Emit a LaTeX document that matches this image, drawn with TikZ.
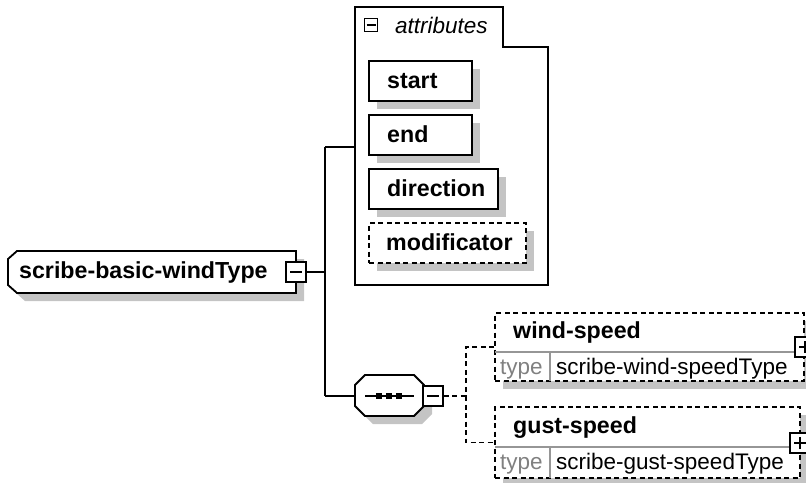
\documentclass[tikz,border=0pt]{standalone}
\usepackage{fontspec}
\setmainfont{Liberation Sans}
\usetikzlibrary{shadows}
\definecolor{shc}{RGB}{196,196,196}
\definecolor{divc}{RGB}{150,150,150}
\definecolor{typec}{RGB}{128,128,128}
\begin{document}
\begin{tikzpicture}[x=1pt,y=-1pt,
  bord/.style={draw=black,line width=1.8pt},
  dsh/.style={dash pattern=on 5pt off 3.5pt},
  shd/.style={general shadow={fill=shc,shadow xshift=8pt,shadow yshift=-8pt}},
  abox/.style={bord,fill=white,shd,rectangle,inner sep=0pt},
  btn/.style={draw=black,line width=1.8pt,fill=white,minimum width=20pt,minimum height=20pt,inner sep=0pt},
  sign/.style={draw=black,line width=1.5pt},
  lbl/.style={anchor=base west,inner sep=0pt,font=\fontsize{22.5}{27}\selectfont},
  blbl/.style={anchor=base west,inner sep=0pt,font=\fontsize{23.2}{27}\selectfont\bfseries},
  ilbl/.style={anchor=base west,inner sep=0pt,font=\fontsize{22.5}{27}\selectfont\itshape},
  conn/.style={draw=black,line width=1.8pt},
  dconn/.style={draw=black,line width=1.6pt,dash pattern=on 5pt off 3.5pt},
]
\useasboundingbox (0,0) rectangle (806,482);

% ---- main complex type ----
\fill[shc,shift={(8,8)}] (17,251) -- (296,251) -- (296,293) -- (17,293) -- (8,285) -- (8,259) -- cycle;
\draw[bord,fill=white] (17,251) -- (296,251) -- (296,293) -- (17,293) -- (8,285) -- (8,259) -- cycle;
\node[blbl] (typ) at (19,278) {scribe-basic-windType};
\node[btn] (mb) at (296,272) {};
\draw[sign] ([xshift=-6pt]mb.center) -- ([xshift=6pt]mb.center);

% ---- junctions ----
\coordinate (j1) at (325,272);
\coordinate (jt) at (325,147);
\coordinate (jb) at (325,396);
\coordinate (attrL) at (355,147);
\coordinate (seqL) at (355,396);

% ---- attributes container ----
\draw[bord,fill=white] (355,7) -- (503,7) -- (503,47) -- (548,47) -- (548,285) -- (355,285) -- cycle;
\node[draw=black,line width=1.4pt,minimum width=13pt,minimum height=13pt,inner sep=0pt] (am) at (371,25) {};
\draw[line width=1.3pt] ([xshift=-4.5pt]am.center) -- ([xshift=4.5pt]am.center);
\node[ilbl] (attrtxt) at (395,33) {attributes};

\node[abox,minimum width=103pt,minimum height=40pt] (bstart) at (420.5,81) {};
\node[blbl] (tstart) at (387,88) {start};
\node[abox,minimum width=103pt,minimum height=40pt] (bend) at (420.5,135) {};
\node[blbl] (tend) at (387,142) {end};
\node[abox,minimum width=129pt,minimum height=40pt] (bdir) at (433.5,189) {};
\node[blbl] (tdir) at (387,196) {direction};
\node[abox,dsh,minimum width=157pt,minimum height=40pt] (bmod) at (447.5,243) {};
\node[blbl] (tmod) at (386,250) {modificator};

% ---- connectors from main type ----
\draw[conn] (mb.east) -- (j1);
\draw[conn] (jt) -- (jb);
\draw[conn] (jt) -- (attrL);
\draw[conn] (jb) -- (seqL);

% ---- sequence compositor ----
\fill[shc,shift={(8,8)}] (365,375) -- (414,375) -- (424,385) -- (424,406) -- (414,416) -- (365,416) -- (355,406) -- (355,385) -- cycle;
\draw[bord,fill=white] (365,375) -- (414,375) -- (424,385) -- (424,406) -- (414,416) -- (365,416) -- (355,406) -- (355,385) -- cycle;
\draw[line width=1.6pt] (365,396) -- (414,396);
\foreach \dx in {379,389,399} \fill (\dx-3,393) rectangle (\dx+3,399);
\node[btn] (sb) at (433,396) {};
\draw[sign] ([xshift=-6pt]sb.center) -- ([xshift=6pt]sb.center);

% ---- elements ----
\node[abox,dsh,line width=1.6pt,minimum width=309pt,minimum height=68pt] (ws) at (649.5,347) {};
\draw[divc,line width=1.5pt] (495,352) -- (804,352);
\draw[divc,line width=1.5pt] (550,352) -- (550,381);
\node[blbl] (wst) at (513,338) {wind-speed};
\node[lbl,text=typec] (wty) at (500,374) {type};
\node[lbl] (wtn) at (556,374) {scribe-wind-speedType};
\node[btn] (wp) at (805,347) {};
\draw[sign] ([xshift=-6pt]wp.center) -- ([xshift=6pt]wp.center) ([yshift=-6pt]wp.center) -- ([yshift=6pt]wp.center);

\node[abox,dsh,line width=1.6pt,minimum width=305pt,minimum height=71pt] (gs) at (647.5,442.5) {};
\draw[divc,line width=1.5pt] (495,447) -- (800,447);
\draw[divc,line width=1.5pt] (550,447) -- (550,478);
\node[blbl] (gst) at (513,433) {gust-speed};
\node[lbl,text=typec] (gty) at (500,469) {type};
\node[lbl] (gtn) at (556,469) {scribe-gust-speedType};
\node[btn] (gp) at (800,443) {};
\draw[sign] ([xshift=-6pt]gp.center) -- ([xshift=6pt]gp.center) ([yshift=-6pt]gp.center) -- ([yshift=6pt]gp.center);

% ---- sequence connectors ----
\coordinate (jd) at (466,396);
\draw[dconn] (sb.east) -- (jd);
\draw[dconn] (ws.west) -| (jd);
\draw[dconn] (jd) |- (gs.west);
\end{tikzpicture}
\end{document}
